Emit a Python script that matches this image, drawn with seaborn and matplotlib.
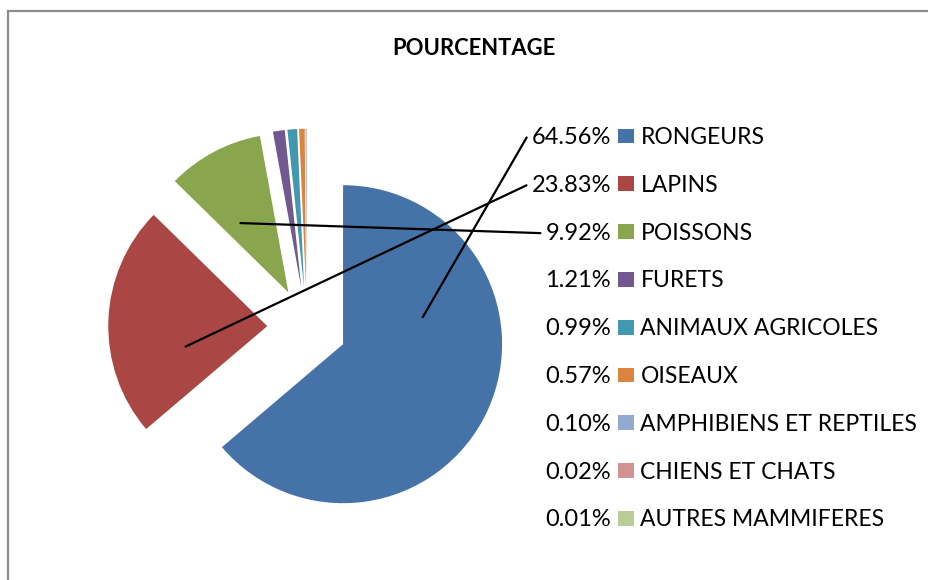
import numpy as np
import matplotlib
matplotlib.use("Agg")
import matplotlib.pyplot as plt
import seaborn as sns
from matplotlib.patches import Patch, Rectangle

categories = ["RONGEURS", "LAPINS", "POISSONS", "FURETS", "ANIMAUX AGRICOLES",
              "OISEAUX", "AMPHIBIENS ET REPTILES", "CHIENS ET CHATS",
              "AUTRES MAMMIFERES"]
percent = [64.56, 23.83, 9.92, 1.21, 0.99, 0.57, 0.10, 0.02, 0.01]
colors = ["#4572A7", "#AA4643", "#89A54E", "#71588F", "#4198AF",
          "#DB843D", "#93A9CF", "#D19392", "#B9CD96"]

sns.set_theme(style="white")
plt.rcParams["font.family"] = ["Lato", "DejaVu Sans"]

W, H = 929, 580
fig = plt.figure(figsize=(W / 100, H / 100), dpi=100)
ax = fig.add_axes([0, 0, 1, 1])

# axes in pixel units, y pointing up
cx, cy, r = 307, H - 327.5, 159
wedges, _ = ax.pie(percent, colors=sns.color_palette(colors),
                   startangle=90, counterclock=False,
                   explode=[0.25 * r] * len(percent),
                   center=(cx, cy), radius=r,
                   wedgeprops=dict(linewidth=0))
ax.set_xlim(0, W)
ax.set_ylim(0, H)
ax.set_aspect("equal")
ax.axis("off")

# chart frame
ax.add_patch(Rectangle((8, -20), W + 20, H - 11 + 20, fill=False,
                       edgecolor="#8c8c8c", lw=1.6, clip_on=False))

ax.text(474, H - 48.5, "POURCENTAGE", ha="center", va="center",
        fontsize=15.8, fontweight="bold", color="black")

handles = [Patch(facecolor=c, edgecolor="none") for c in colors]
leg = ax.legend(handles, categories, loc="upper left",
                bbox_to_anchor=(618, H - 127), bbox_transform=ax.transData,
                frameon=False, fontsize=16.5, handlelength=0.7,
                handleheight=0.62, handletextpad=0.28, labelspacing=1.17,
                borderpad=0, borderaxespad=0)
for t in leg.get_texts():
    t.set_color("black")

fig.canvas.draw()
renderer = fig.canvas.get_renderer()
inv = ax.transData.inverted()
for i, (txt, hnd) in enumerate(zip(leg.get_texts(), leg.legend_handles)):
    tb = txt.get_window_extent(renderer)
    hb = hnd.get_window_extent(renderer)
    x0, y0 = inv.transform((hb.x0 - 7, (tb.y0 + tb.y1) / 2))
    lab = ax.text(x0, y0, f"{percent[i]:.2f}%", ha="right", va="center",
                  fontsize=17, color="black")
    if i < 3:
        # leader line from inside the slice to the label
        w = wedges[i]
        th = np.deg2rad(w.theta1 + 0.69 * (w.theta2 - w.theta1))
        ax0 = w.center[0] + 0.53 * r * np.cos(th)
        ay0 = w.center[1] + 0.53 * r * np.sin(th)
        lb = lab.get_window_extent(renderer)
        ex, ey = inv.transform((lb.x0 - 5, (lb.y0 + lb.y1) / 2))
        ax.plot([ax0, ex], [ay0, ey], color="black", lw=1.6, zorder=5)

fig.savefig("out.png", dpi=100)
